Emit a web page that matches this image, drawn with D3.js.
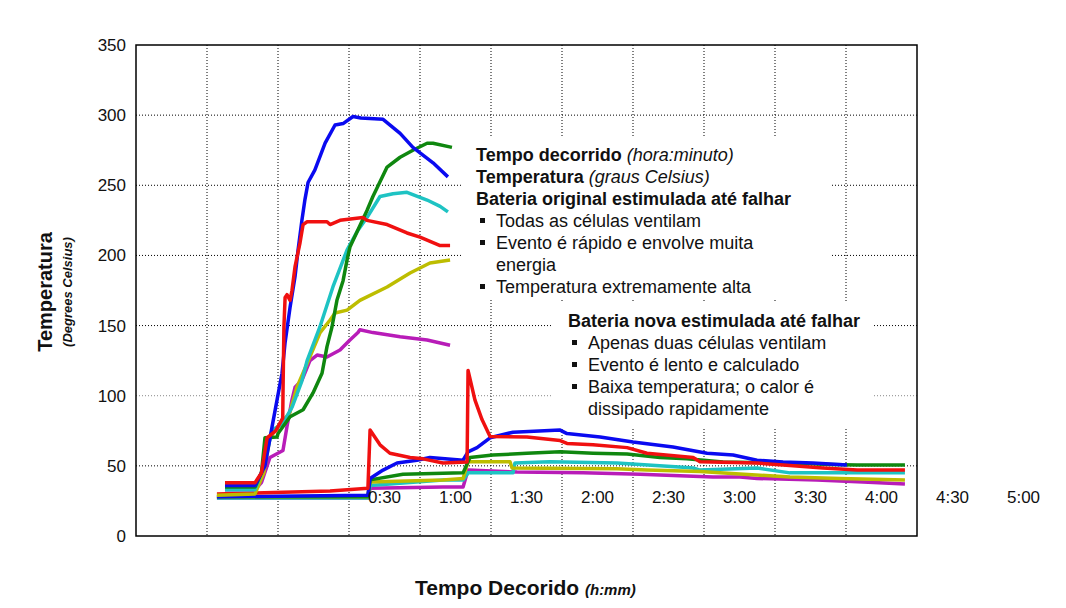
<!DOCTYPE html>
<html>
<head>
<meta charset="utf-8">
<script src="https://cdn.jsdelivr.net/npm/d3@7"></script>
<style>
  body { margin: 0; background: #fff; }
  text { font-family: "Liberation Sans", Arial, sans-serif; fill: #111; }
</style>
</head>
<body>
<div id="chart"></div>
<script>
// ---- data (time in minutes, temperature in °C) ----
const yTicks = [0, 50, 100, 150, 200, 250, 300, 350];
const xGridMinutes = [-45, -15, 15, 45, 75, 105, 135, 165, 195, 225];
const xTickMinutes = [30, 60, 90, 120, 150, 180, 210, 240, 270, 300];
const xTickLabels = ["0:30", "1:00", "1:30", "2:00", "2:30", "3:00", "3:30", "4:00", "4:30", "5:00"];

// original battery (fails fast, high temperature)
const origBlue = [[-37.4,36],[-24.7,36],[-20.5,50],[-17.5,78],[-15.4,97],[-13.3,116],[-12,138],[-9.9,163],[-7.8,185],[-6.5,204],[-4.9,225],[-3.6,240],[-2.3,252],[0.6,261],[4.9,280],[9.1,293],[12.5,294],[16.7,299],[20,298],[29.4,297],[36.6,287],[42,277],[50.5,266],[56.8,256]];
const origRed = [[-37.4,38],[-24.7,38],[-22,45],[-19.6,70],[-16,75],[-13,84],[-12.9,100],[-12.5,149],[-12,170],[-11.2,172],[-9.9,168],[-9.1,175],[-7.8,192],[-5.7,209],[-4.4,222],[-2.7,224],[5.7,224],[7,222],[11.2,225],[20.9,227],[22.6,225],[31.1,222],[39.5,216],[45,213],[53.5,207],[57.7,207]];
const origGreen = [[-37.4,35],[-24.7,35],[-22,45],[-20.5,70],[-15.4,70.6],[-15,73],[-9.9,85],[-4.4,90],[-0.2,102],[3.6,116],[5.7,135],[7.8,149],[9.9,168],[12.5,182],[14.2,197],[15.4,206],[22.6,232],[25.1,242],[31.1,263],[36.6,270],[42,275],[48,280],[50.5,280],[58.5,277]];
const origCyan = [[-37.4,33],[-24.7,33],[-21,50],[-17.5,75.5],[-13,80],[-9,92],[-5,110],[-2.7,125],[2.7,149],[8.2,177.5],[14.2,204],[18.8,218],[22.6,227],[28.1,242],[33.6,244],[39.5,245],[48,239.5],[53.5,235],[56.8,231]];
const origYellow = [[-40.8,29],[-24.7,30],[-21,45],[-18.4,70],[-15,78],[-10,88],[-7,106],[-2.7,123],[2.7,144.7],[7,154],[9.1,159],[14.2,161],[19.6,168],[31.1,177.5],[40.8,187.5],[49.2,194.6],[57.7,196.7]];
const origMagenta = [[-37.4,33],[-24.7,33],[-22,38],[-18.4,56],[-12.9,61],[-11.2,78],[-9.1,97],[-7.8,106],[-4.9,111],[-1.5,125],[1.5,129],[5.7,127.6],[11.2,132.6],[15.4,139.7],[18.8,145],[19.6,147],[25.1,145],[36.6,142],[48,139.7],[57.7,136]];

// new battery (slow, low temperature)
const newRed = [[-40.8,30],[-24.7,30.6],[7,32],[23,34],[23.9,75.5],[28.1,65],[32.3,59],[40.8,56],[46.3,55],[54.7,52],[64.9,52.7],[65.3,118],[68.2,97],[71.2,83],[74.6,71],[90.2,70.5],[104.2,68],[107.1,66],[118.1,65],[132.5,63],[140.9,59],[160.4,56],[163.3,53],[187.4,52],[198.4,50.6],[215.3,48.5],[229.7,47],[249.9,47]];
const newBlue = [[-40.8,28],[23,29],[23.9,41],[29.4,47],[35.3,52],[43.7,54],[49.2,56],[63.2,54],[65.3,60],[69.1,63],[74.6,70],[84.3,74],[104.2,75.5],[107.1,73],[121.1,70.6],[135,67],[151.9,63.4],[166.3,59],[177.3,57.7],[187.4,54],[198.4,52.7],[211.1,52],[225.4,50.6]];
const newGreen = [[-40.8,28],[23,28],[23.9,40],[37.8,44],[63.2,45],[66.1,56],[75.8,57.7],[90.2,59],[104.2,60],[118.1,59],[132.5,58.4],[146.4,56],[157.8,55],[173,52.7],[201.3,52],[218.2,51],[229.7,50.6],[249.9,50.6]];
const newCyan = [[-40.8,27],[23,27],[23.9,36],[54.7,40],[63.2,40],[65.3,45],[84.3,45],[85.1,52],[99.9,53],[128.2,52],[156.1,49],[160.4,48.5],[163.3,47],[187.4,48.5],[201.3,45],[249.9,45]];
const newYellow = [[-40.8,28],[23,28],[23.9,38.5],[54.7,40],[63.2,41],[65.3,53],[83,53],[83.9,48.5],[128.2,48],[140.9,47],[163.3,46],[201.3,42],[222.5,41],[249.9,40]];
const newMagenta = [[-40.8,27],[23,27],[23.9,34],[54.7,35],[63.2,35],[65.3,47],[86,45.6],[113.9,45],[138,44],[168.8,42],[180.2,42],[187.4,41],[212.7,40],[232.2,38.5],[249.9,37]];

const note1 = [
  { bold: "Tempo decorrido ", italic: "(hora:minuto)" },
  { bold: "Temperatura ", italic: "(graus Celsius)" },
  { bold: "Bateria original estimulada até falhar" },
  { bullet: "Todas as células ventilam" },
  { bullet: "Evento é rápido e envolve muita" },
  { cont: "energia" },
  { bullet: "Temperatura extremamente alta" }
];
const note2 = [
  { bold: "Bateria nova estimulada até falhar" },
  { bullet: "Apenas duas células ventilam" },
  { bullet: "Evento é lento e calculado" },
  { bullet: "Baixa temperatura; o calor é" },
  { cont: "dissipado rapidamente" }
];

// ---- layout ----
const W = 1066, H = 608;
const margin = { top: 45, left: 136 };
const width = 781, height = 491;

const svg = d3.select("#chart").append("svg")
  .attr("width", W).attr("height", H);

const g = svg.append("g")
  .attr("transform", `translate(${margin.left},${margin.top})`);

const x = d3.scaleLinear().domain([-75, 255]).range([0, width]);
const y = d3.scaleLinear().domain([0, 350]).range([height, 0]);

// grid
g.selectAll(".hgrid")
  .data(yTicks.filter(d => d > 0 && d < 350))
  .enter().append("line")
  .attr("x1", 0).attr("x2", width)
  .attr("y1", d => y(d)).attr("y2", d => y(d))
  .attr("stroke", d => d === 100 ? "#888" : "#000")
  .attr("stroke-width", 1)
  .attr("stroke-dasharray", "1 2");

g.selectAll(".vgrid")
  .data(xGridMinutes)
  .enter().append("line")
  .attr("x1", d => x(d)).attr("x2", d => x(d))
  .attr("y1", 0).attr("y2", height)
  .attr("stroke", "#000")
  .attr("stroke-width", 1)
  .attr("stroke-dasharray", "1 2");

// frame
g.append("rect")
  .attr("width", width).attr("height", height)
  .attr("fill", "none").attr("stroke", "#000").attr("stroke-width", 1.5);

// y tick labels
svg.append("g").selectAll("text")
  .data(yTicks)
  .enter().append("text")
  .attr("x", 126)
  .attr("y", d => margin.top + y(d))
  .attr("dy", "0.35em")
  .attr("text-anchor", "end")
  .attr("font-size", "17px")
  .text(d => d);

// x tick labels (drawn inside the plot, under the curves)
svg.append("g").selectAll("text")
  .data(xTickMinutes)
  .enter().append("text")
  .attr("x", d => margin.left + x(d))
  .attr("y", 503)
  .attr("text-anchor", "middle")
  .attr("font-size", "17px")
  .text((d, i) => xTickLabels[i]);

// curves
const line = d3.line()
  .x(d => x(d[0]))
  .y(d => y(d[1]));

const series = [
  { data: newMagenta, color: "#b81cb8" },
  { data: newCyan, color: "#1ec3c3" },
  { data: newYellow, color: "#bdbd00" },
  { data: newGreen, color: "#0f870f" },
  { data: newBlue, color: "#0a0af0" },
  { data: newRed, color: "#f01010" },
  { data: origMagenta, color: "#b81cb8" },
  { data: origYellow, color: "#bdbd00" },
  { data: origCyan, color: "#1ec3c3" },
  { data: origGreen, color: "#0f870f" },
  { data: origBlue, color: "#0a0af0" },
  { data: origRed, color: "#f01010" }
];

g.selectAll(".curve")
  .data(series)
  .enter().append("path")
  .attr("class", "curve")
  .attr("d", d => line(d.data))
  .attr("fill", "none")
  .attr("stroke", d => d.color)
  .attr("stroke-width", 3.5)
  .attr("stroke-linejoin", "round");

// annotation boxes
function drawNote(lines, bx, by, bw, bh, tx, top) {
  svg.append("rect")
    .attr("x", bx).attr("y", by).attr("width", bw).attr("height", bh)
    .attr("fill", "#fff");
  const lh = 22;
  lines.forEach((l, i) => {
    const yy = top + i * lh;
    if (l.bold !== undefined) {
      const t = svg.append("text").attr("x", tx).attr("y", yy).attr("font-size", "18px");
      t.append("tspan").attr("font-weight", "bold").text(l.bold);
      if (l.italic) t.append("tspan").attr("font-style", "italic").text(l.italic);
    } else if (l.bullet !== undefined) {
      svg.append("rect").attr("x", tx + 4).attr("y", yy - 9).attr("width", 5).attr("height", 5).attr("fill", "#111");
      svg.append("text").attr("x", tx + 20).attr("y", yy).attr("font-size", "18px").text(l.bullet);
    } else {
      svg.append("text").attr("x", tx + 20).attr("y", yy).attr("font-size", "18px").text(l.cont);
    }
  });
}
drawNote(note1, 462, 136, 368, 164, 476, 161);
drawNote(note2, 553, 302, 320, 125, 568, 327);

// axis titles
svg.append("text")
  .attr("transform", "translate(52,292) rotate(-90)")
  .attr("text-anchor", "middle")
  .attr("font-size", "20px")
  .attr("font-weight", "bold")
  .text("Temperatura");

svg.append("text")
  .attr("transform", "translate(72,292) rotate(-90)")
  .attr("text-anchor", "middle")
  .attr("font-size", "13px")
  .attr("font-weight", "bold")
  .attr("font-style", "italic")
  .text("(Degrees Celsius)");

const xt = svg.append("text")
  .attr("x", 415).attr("y", 595)
  .attr("font-size", "21px")
  .attr("font-weight", "bold");
xt.append("tspan").text("Tempo Decorido ");
xt.append("tspan").attr("font-size", "15px").attr("font-style", "italic").text("(h:mm)");
</script>
</body>
</html>
